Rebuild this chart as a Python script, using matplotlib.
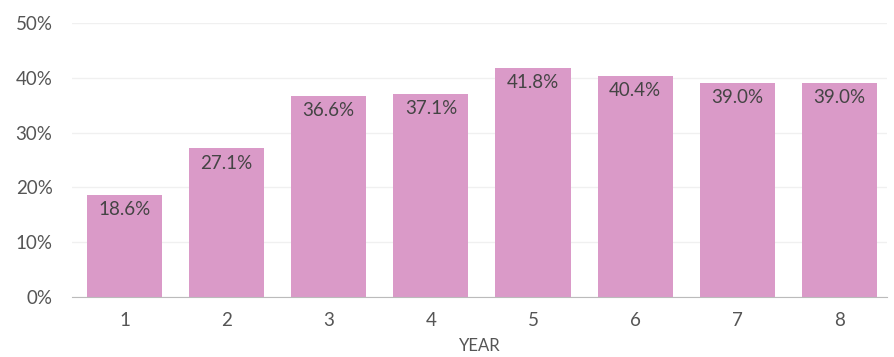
import matplotlib
matplotlib.use("Agg")
import matplotlib.pyplot as plt

years = ["1", "2", "3", "4", "5", "6", "7", "8"]
values = [18.6, 27.1, 36.6, 37.1, 41.8, 40.4, 39.0, 39.0]
yticks = [0, 10, 20, 30, 40, 50]

plt.rcParams['font.family'] = ['Lato', 'DejaVu Sans']
text_color = "#555555"

fig = plt.figure(figsize=(8.95, 3.57), dpi=100)
ax = fig.add_axes([0.0804, 0.168, 0.911, 0.7676])
x = list(range(len(years)))
ax.bar(x, values, width=0.735, color="#DA9AC8", zorder=2)
for xi, v in zip(x, values):
    ax.text(xi, v - 1.1, f"{v:.1f}%", ha="center", va="top", fontsize=13.5,
            color="#444444", zorder=3)

ax.set_xlim(-0.515, 7.47)
ax.set_ylim(0, 50)
ax.set_yticks(yticks)
ax.set_yticklabels([f"{t}%" for t in yticks])
ax.set_xticks(x)
ax.set_xticklabels(years)
ax.grid(axis="y", color="#F0F0F0", linewidth=1, zorder=0)
for s in ["top", "right", "left"]:
    ax.spines[s].set_visible(False)
ax.spines["bottom"].set_color("#BBBBBB")
ax.tick_params(axis="both", length=0, labelsize=13.5, colors=text_color)
ax.tick_params(axis="x", pad=11)
ax.tick_params(axis="y", pad=14)
ax.set_xlabel("YEAR", fontsize=12, color=text_color, labelpad=6)

fig.savefig("out.png", dpi=100)
